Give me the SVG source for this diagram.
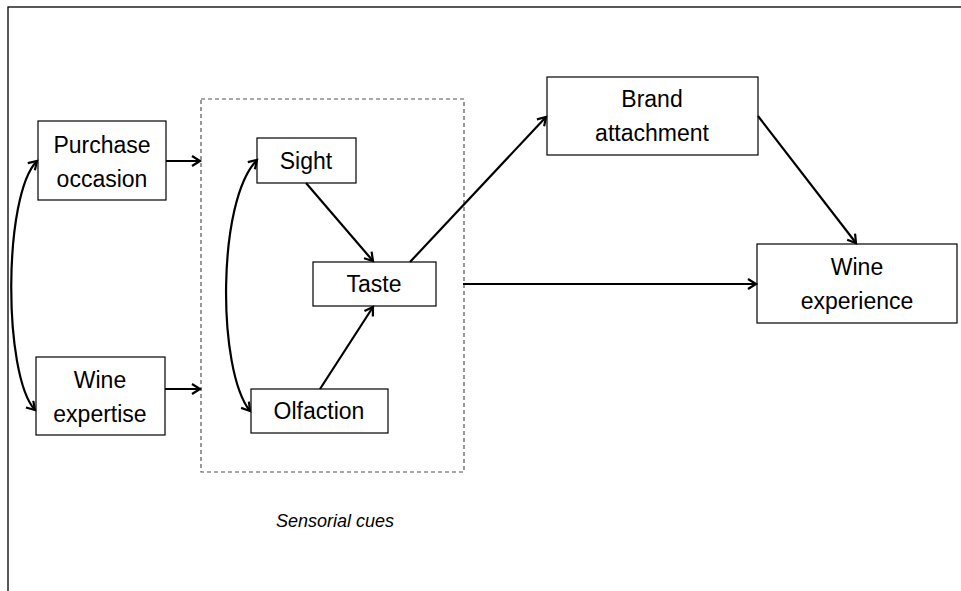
<svg xmlns="http://www.w3.org/2000/svg" width="961" height="591" viewBox="0 0 961 591">
<style>
.box{fill:#fff;stroke:#000;stroke-width:1.2}
.t{font-family:"Liberation Sans",Arial,sans-serif;font-size:23px;fill:#000;text-anchor:middle}
.c{fill:none;stroke:#000;stroke-width:2.2;marker-end:url(#ah)}
.b{marker-start:url(#ah)}
</style>
<defs>
<marker id="ah" markerUnits="userSpaceOnUse" markerWidth="14" markerHeight="14" refX="10" refY="6" orient="auto-start-reverse">
<path d="M2,1 L10,6 L2,11" fill="none" stroke="#000" stroke-width="2.2"/>
</marker>
</defs>
<rect x="0" y="0" width="961" height="591" fill="#fff"/>
<rect x="8" y="7" width="1000" height="1000" fill="none" stroke="#000" stroke-width="1.3"/>
<g id="sensorial-cues">
<rect x="201" y="99" width="263" height="373" fill="none" stroke="#555" stroke-width="1.2" stroke-dasharray="4,3"/>
<text x="335" y="527" class="t" style="font-size:18px;font-style:italic">Sensorial cues</text>
</g>
<g id="purchase-occasion"><rect class="box" x="38" y="121" width="128" height="79"/><text class="t" x="102" y="153">Purchase</text><text class="t" x="102" y="187">occasion</text></g>
<g id="wine-expertise"><rect class="box" x="36" y="357" width="129" height="78"/><text class="t" x="100" y="388">Wine</text><text class="t" x="100" y="422">expertise</text></g>
<g id="sight"><rect class="box" x="257" y="138" width="99" height="45"/><text class="t" x="306" y="169">Sight</text></g>
<g id="taste"><rect class="box" x="313" y="262" width="123" height="44"/><text class="t" x="374" y="292">Taste</text></g>
<g id="olfaction"><rect class="box" x="251" y="389" width="137" height="44"/><text class="t" x="319" y="419">Olfaction</text></g>
<g id="brand-attachment"><rect class="box" x="547" y="77" width="211" height="78"/><text class="t" x="652" y="107">Brand</text><text class="t" x="652" y="141">attachment</text></g>
<g id="wine-experience"><rect class="box" x="757" y="244" width="200" height="79"/><text class="t" x="857" y="275">Wine</text><text class="t" x="857" y="309">experience</text></g>
<g id="connectors">
<path class="c" d="M166,161 L200,161"/>
<path class="c" d="M165,389 L200,389"/>
<path class="c b" d="M37,161 C3,195 3,375 35,410"/>
<path class="c b" d="M257,160 C217,200 217,370 250,411"/>
<path class="c" d="M306,183 L373,261"/>
<path class="c" d="M320,389 L373,307"/>
<path class="c" d="M410,262 L546,117"/>
<path class="c" d="M463,284 L756,284"/>
<path class="c" d="M758,116 L856,243"/>
</g>
</svg>
